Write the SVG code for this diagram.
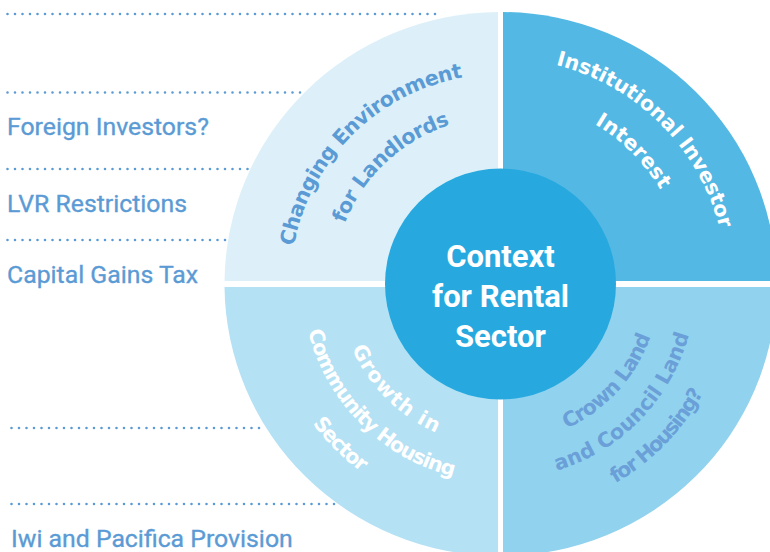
<svg xmlns="http://www.w3.org/2000/svg" xmlns:xlink="http://www.w3.org/1999/xlink" width="770" height="552" viewBox="0 0 770 552">
<style>
.lbl{font-family:Roboto,"Liberation Sans",sans-serif;font-size:24.8px;fill:#5B9BD5;stroke:#5B9BD5;stroke-width:0.35}
.dot{fill:none;stroke:#5B9BD5;stroke-width:2.6;stroke-linecap:round;stroke-dasharray:0 7.5}
.arc{font-family:"DejaVu Sans",sans-serif;font-weight:bold;font-size:20.5px}
.ctr{font-family:Roboto,"Liberation Sans",sans-serif;font-weight:bold;font-size:31px;fill:#ffffff}
</style>
<defs>
<path id="pTL1" d="M290.5,284 A210,210 0 0 1 500.5,74"/>
<path id="pTL2" d="M333.5,284 A167,167 0 0 1 500.5,117"/>
<path id="pTR1" d="M500.5,58 A226,226 0 0 1 726.5,284"/>
<path id="pTR2" d="M500.5,98.5 A185.5,185.5 0 0 1 686,284"/>
<path id="pBL1" d="M338.5,284 A162,162 0 0 0 500.5,446"/>
<path id="pBL2" d="M302.5,284 A198,198 0 0 0 500.5,482"/>
<path id="pBL3" d="M266.5,284 A234,234 0 0 0 500.5,518"/>
<path id="pBR1" d="M500.5,443 A159,159 0 0 0 659.5,284"/>
<path id="pBR2" d="M500.5,479 A195,195 0 0 0 695.5,284"/>
<path id="pBR3" d="M500.5,514 A230,230 0 0 0 730.5,284"/>
</defs>
<rect width="770" height="552" fill="#ffffff"/>
<g id="connectors">
<line class="dot" x1="7.5" y1="14" x2="437" y2="14"/>
<line class="dot" x1="7.5" y1="92.5" x2="307" y2="92.5"/>
<line class="dot" x1="7.5" y1="169" x2="250" y2="169"/>
<line class="dot" x1="7.5" y1="240" x2="232" y2="240"/>
<line class="dot" x1="11.5" y1="428" x2="263" y2="428"/>
<line class="dot" x1="11.5" y1="504" x2="337" y2="504"/>
</g>
<g id="label-foreign"><text class="lbl" x="7" y="135">Foreign Investors?</text></g>
<g id="label-lvr"><text class="lbl" x="7" y="211.5">LVR Restrictions</text></g>
<g id="label-cgt"><text class="lbl" x="7" y="282.5">Capital Gains Tax</text></g>
<g id="label-iwi"><text class="lbl" x="11" y="547">Iwi and Pacifica Provision</text></g>
<g id="q-landlords">
<path d="M498,281 L224.5,281 A276,272 0 0 1 498,12 Z" fill="#DDF0F9"/>
<text class="arc" fill="#5B9BD5" text-anchor="middle"><textPath xlink:href="#pTL1" href="#pTL1" startOffset="50%" textLength="254" lengthAdjust="spacing">Changing Environment</textPath></text>
<text class="arc" fill="#5B9BD5" text-anchor="middle"><textPath xlink:href="#pTL2" href="#pTL2" startOffset="52%" textLength="149" lengthAdjust="spacing">for Landlords</textPath></text>
</g>
<g id="q-institutional">
<path d="M503,281 V12 A276,272 0 0 1 776.5,281 Z" fill="#53B8E4"/>
<text class="arc" fill="#ffffff" text-anchor="middle"><textPath xlink:href="#pTR1" href="#pTR1" startOffset="50%" textLength="243" lengthAdjust="spacing">Institutional Investor</textPath></text>
<text class="arc" fill="#ffffff" text-anchor="middle"><textPath xlink:href="#pTR2" href="#pTR2" startOffset="50%" textLength="94" lengthAdjust="spacing">Interest</textPath></text>
</g>
<g id="q-community">
<path d="M498,287 V556 A276,272 0 0 1 224.5,287 Z" fill="#B4E1F4"/>
<text class="arc" fill="#ffffff" text-anchor="middle"><textPath xlink:href="#pBL1" href="#pBL1" startOffset="50%" textLength="122" lengthAdjust="spacing">Growth in</textPath></text>
<text class="arc" fill="#ffffff" text-anchor="middle"><textPath xlink:href="#pBL2" href="#pBL2" startOffset="50%" textLength="216" lengthAdjust="spacing">Community Housing</textPath></text>
<text class="arc" fill="#ffffff" text-anchor="middle"><textPath xlink:href="#pBL3" href="#pBL3" startOffset="50%" textLength="69" lengthAdjust="spacing">Sector</textPath></text>
</g>
<g id="q-crownland">
<path d="M503,287 H776.5 A276,272 0 0 1 503,556 Z" fill="#91D2EE"/>
<text class="arc" fill="#6A9FD8" text-anchor="middle"><textPath xlink:href="#pBR1" href="#pBR1" startOffset="53%" textLength="128" lengthAdjust="spacing">Crown Land</textPath></text>
<text class="arc" fill="#6A9FD8" text-anchor="middle"><textPath xlink:href="#pBR2" href="#pBR2" startOffset="51%" textLength="198" lengthAdjust="spacing">and Council Land</textPath></text>
<text class="arc" fill="#6A9FD8" text-anchor="middle"><textPath xlink:href="#pBR3" href="#pBR3" startOffset="51%" textLength="128" lengthAdjust="spacing">for Housing?</textPath></text>
</g>
<g id="center">
<circle cx="500.5" cy="284" r="115.5" fill="#27A9DF"/>
<text class="ctr" x="500.5" y="267" text-anchor="middle">Context</text>
<text class="ctr" x="500.5" y="307" text-anchor="middle">for Rental</text>
<text class="ctr" x="500.5" y="347" text-anchor="middle">Sector</text>
</g>
</svg>
